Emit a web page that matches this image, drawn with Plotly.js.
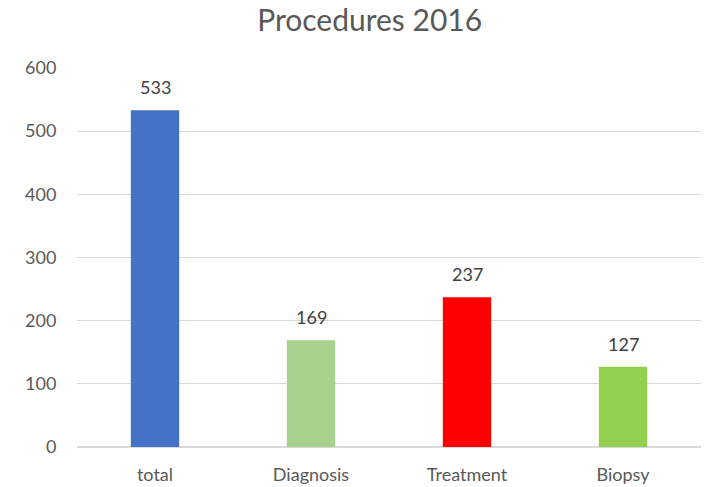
<!DOCTYPE html>
<html><head><meta charset="utf-8">
<script src="https://cdn.plot.ly/plotly-3.0.1.min.js"></script>
<style>html,body{margin:0;padding:0;background:#fff}#c{width:706px;height:487px}</style>
</head><body><div id="c"></div>
<script>
const categories = ["total", "Diagnosis", "Treatment", "Biopsy"];
const values = [533, 169, 237, 127];
const colors = ["#4472C4", "#A9D18E", "#FF0000", "#92D050"];
const yTicks = [0, 100, 200, 300, 400, 500, 600];
const font = "Lato, 'Open Sans', sans-serif";

const annotations = categories.map((c, i) => ({
  x: c, y: values[i], text: String(values[i]), showarrow: false,
  yanchor: 'bottom', yshift: 10, font: {family: font, size: 18, color: '#404040'}
}));

Plotly.newPlot('c', [{
  type: 'bar', x: categories, y: values,
  marker: {color: colors}, hoverinfo: 'none'
}], {
  width: 706, height: 487,
  margin: {l: 77, r: 5, t: 68, b: 40},
  paper_bgcolor: '#fff', plot_bgcolor: '#fff',
  bargap: 0.69,
  showlegend: false,
  title: {text: 'Procedures 2016', xref: 'paper', x: 0.469, xanchor: 'center', y: 0.958, yanchor: 'middle',
          font: {family: font, size: 30, color: '#595959'}},
  xaxis: {type: 'category', showgrid: false, showline: false, zeroline: false,
          ticks: 'outside', ticklen: 11, tickcolor: 'rgba(0,0,0,0)',
          tickfont: {family: font, size: 18, color: '#595959'}},
  yaxis: {range: [0, 600], tickvals: yTicks, showgrid: true, gridcolor: '#D9D9D9', gridwidth: 1,
          zeroline: true, zerolinecolor: '#D9D9D9', zerolinewidth: 1.5, showline: false,
          ticks: 'outside', ticklen: 16, tickcolor: 'rgba(0,0,0,0)',
          tickfont: {family: font, size: 18, color: '#595959'}},
  annotations: annotations
}, {staticPlot: true});
</script></body></html>
